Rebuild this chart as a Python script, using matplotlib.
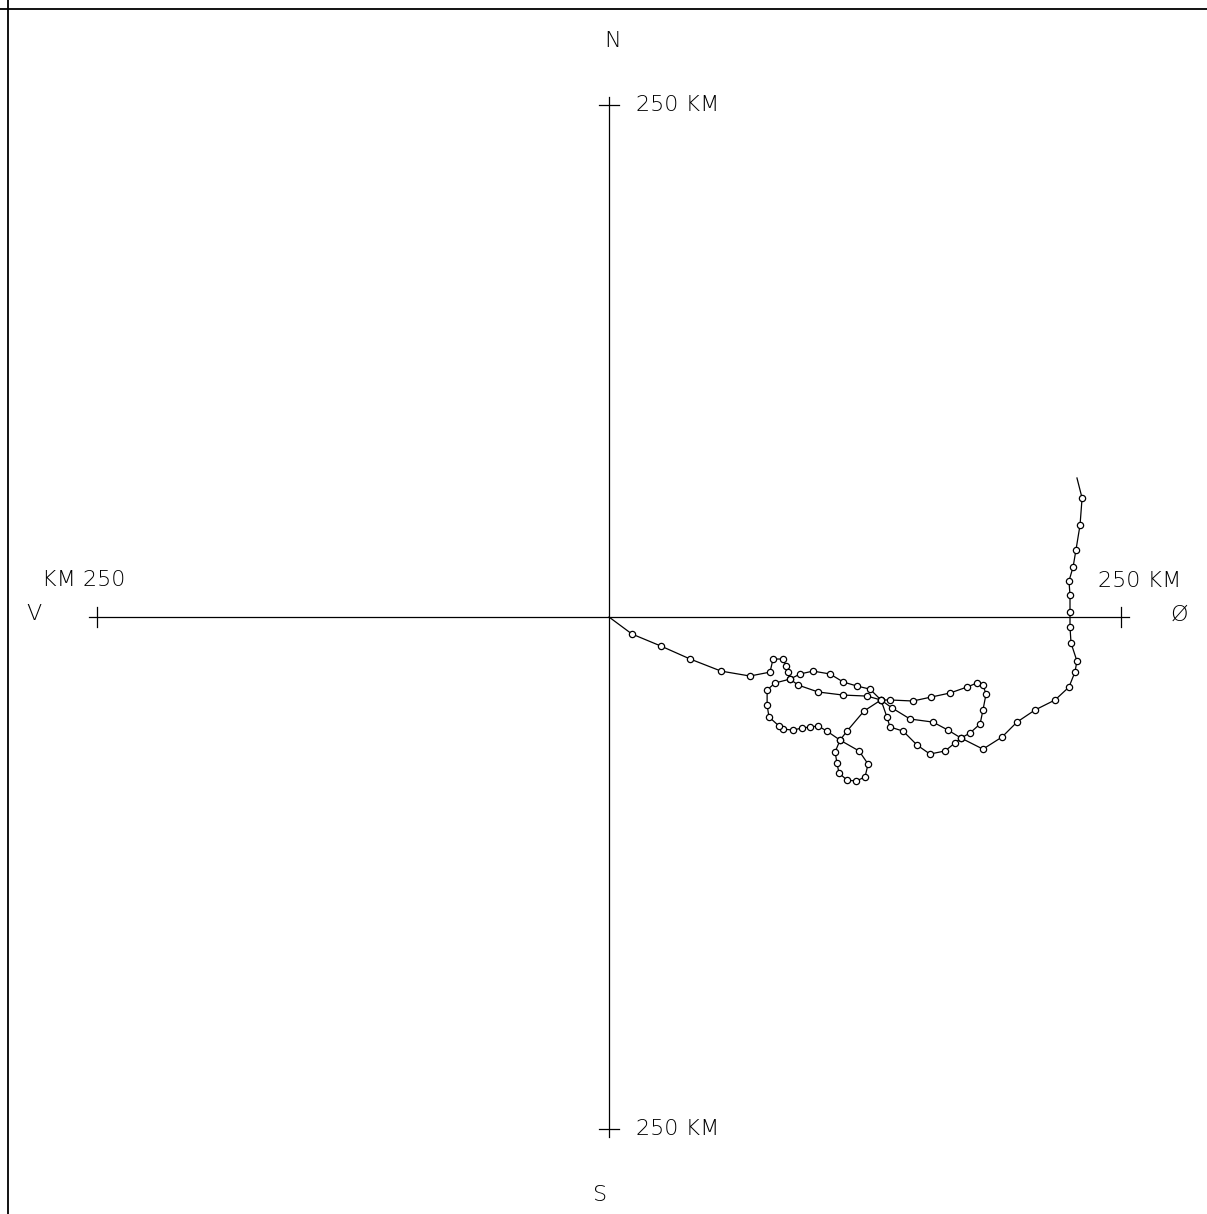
# Drift track of a buoy: progressive vector diagram, km east/north of release point

import matplotlib.pyplot as plt

# track, km east (+) / north (+) of the release point
east_km = [0.0, 11.2, 25.4, 39.6, 54.7, 68.8, 78.6, 80.1, 85.0, 86.4, 87.4, 88.4,
           92.3, 102.1, 114.3, 126.0, 132.8,
           137.2, 148.4, 157.2, 166.5, 174.8, 179.7, 182.6, 184.1, 182.6, 181.2, 176.3, 171.9,
           165.5, 158.2, 147.0, 138.2, 132.8,
           124.5, 116.2, 112.8,
           110.4, 111.3, 112.3, 116.2, 120.6, 125.0, 126.5, 122.1, 112.8,
           106.4, 102.1, 98.1, 94.2, 89.8, 85.0, 83.0, 78.1, 77.2, 77.2, 81.1, 88.4,
           93.3, 99.6, 107.9, 114.3, 121.1, 127.4, 132.8,
           135.7, 137.2, 143.6, 150.4, 156.7, 164.1, 168.9, 171.9,
           182.6, 191.9, 199.2, 208.0, 217.8, 224.6, 227.5, 228.5, 225.6, 225.1,
           225.1, 225.1, 224.6, 226.6, 228.0, 230.0, 231.0, 228.5]
north_km = [0.0, -8.3, -14.2, -20.5, -26.4, -28.8, -26.9, -20.5, -20.5, -23.9, -26.9, -30.3,
            -33.2, -36.6, -38.1, -38.6, -40.5,
            -40.5, -41.0, -39.1, -37.1, -34.2, -32.2, -33.2, -37.6, -45.4, -52.2, -56.6, -59.1,
            -55.2, -51.3, -49.8, -44.4, -40.5,
            -45.9, -55.7, -60.1,
            -65.9, -71.3, -76.2, -79.6, -80.1, -78.1, -71.8, -65.4, -60.1,
            -55.7, -53.2, -53.7, -54.2, -55.2, -54.7, -53.2, -48.8, -43.0, -35.6, -32.2, -30.3,
            -27.8, -26.4, -27.8, -31.7, -33.7, -35.2, -40.5,
            -48.8, -53.7, -55.7, -62.5, -66.9, -65.4, -61.5, -59.1,
            -64.5, -58.6, -51.3, -45.4, -40.5, -34.2, -26.9, -21.5, -12.7, -4.9,
            2.4, 10.7, 17.6, 24.4, 32.7, 44.9, 58.1, 67.9]

axis_km = 250
axis_label = '250 KM'
compass = {'N': 'N', 'S': 'S', 'W': 'V', 'E': 'Ø'}

plt.rcParams['font.family'] = ['DejaVu Sans']
fs = 16

fig = plt.figure(figsize=(12.07, 12.14), dpi=100)
ax = fig.add_axes([0, 0, 1, 1])
ax.set_xlim(-297.4, 292.0)
ax.set_ylim(-291.5, 301.3)
ax.axis('off')

# plotter frame (top and left edges only)
ax.axhline(296.9, color='k', lw=1.3)
ax.axvline(-293.5, color='k', lw=1.3)

# axes cross with end ticks
ext = axis_km + 4
ax.plot([-ext, ext], [0, 0], color='k', lw=0.9)
ax.plot([0, 0], [-ext, ext], color='k', lw=0.9)
tk = 5
for s in (-1, 1):
    ax.plot([s * axis_km] * 2, [-tk, tk], color='k', lw=0.9)
    ax.plot([-tk, tk], [s * axis_km] * 2, color='k', lw=0.9)

txt = dict(fontsize=fs, color='k', fontweight='light')
ax.text(13.2, axis_km, axis_label, ha='left', va='center', **txt)
ax.text(13.2, -axis_km, axis_label, ha='left', va='center', **txt)
ax.text(238.8, 17.6, axis_label, ha='left', va='center', **txt)
ax.text(-276.9, 18.1, 'KM 250', ha='left', va='center', **txt)
ax.text(1.5, 281.3, compass['N'], ha='center', va='center', **txt)
ax.text(-4.4, -282.2, compass['S'], ha='center', va='center', **txt)
ax.text(-280.8, 1.5, compass['W'], ha='center', va='center', **txt)
ax.text(278.3, 1.0, compass['E'], ha='center', va='center', **txt)

# drift track with time marks
ax.plot(east_km, north_km, color='k', lw=0.9,
        marker='o', markersize=4.5, mfc='white', mec='k', mew=0.9,
        markevery=slice(1, -1))

fig.savefig('out.png', dpi=100)
